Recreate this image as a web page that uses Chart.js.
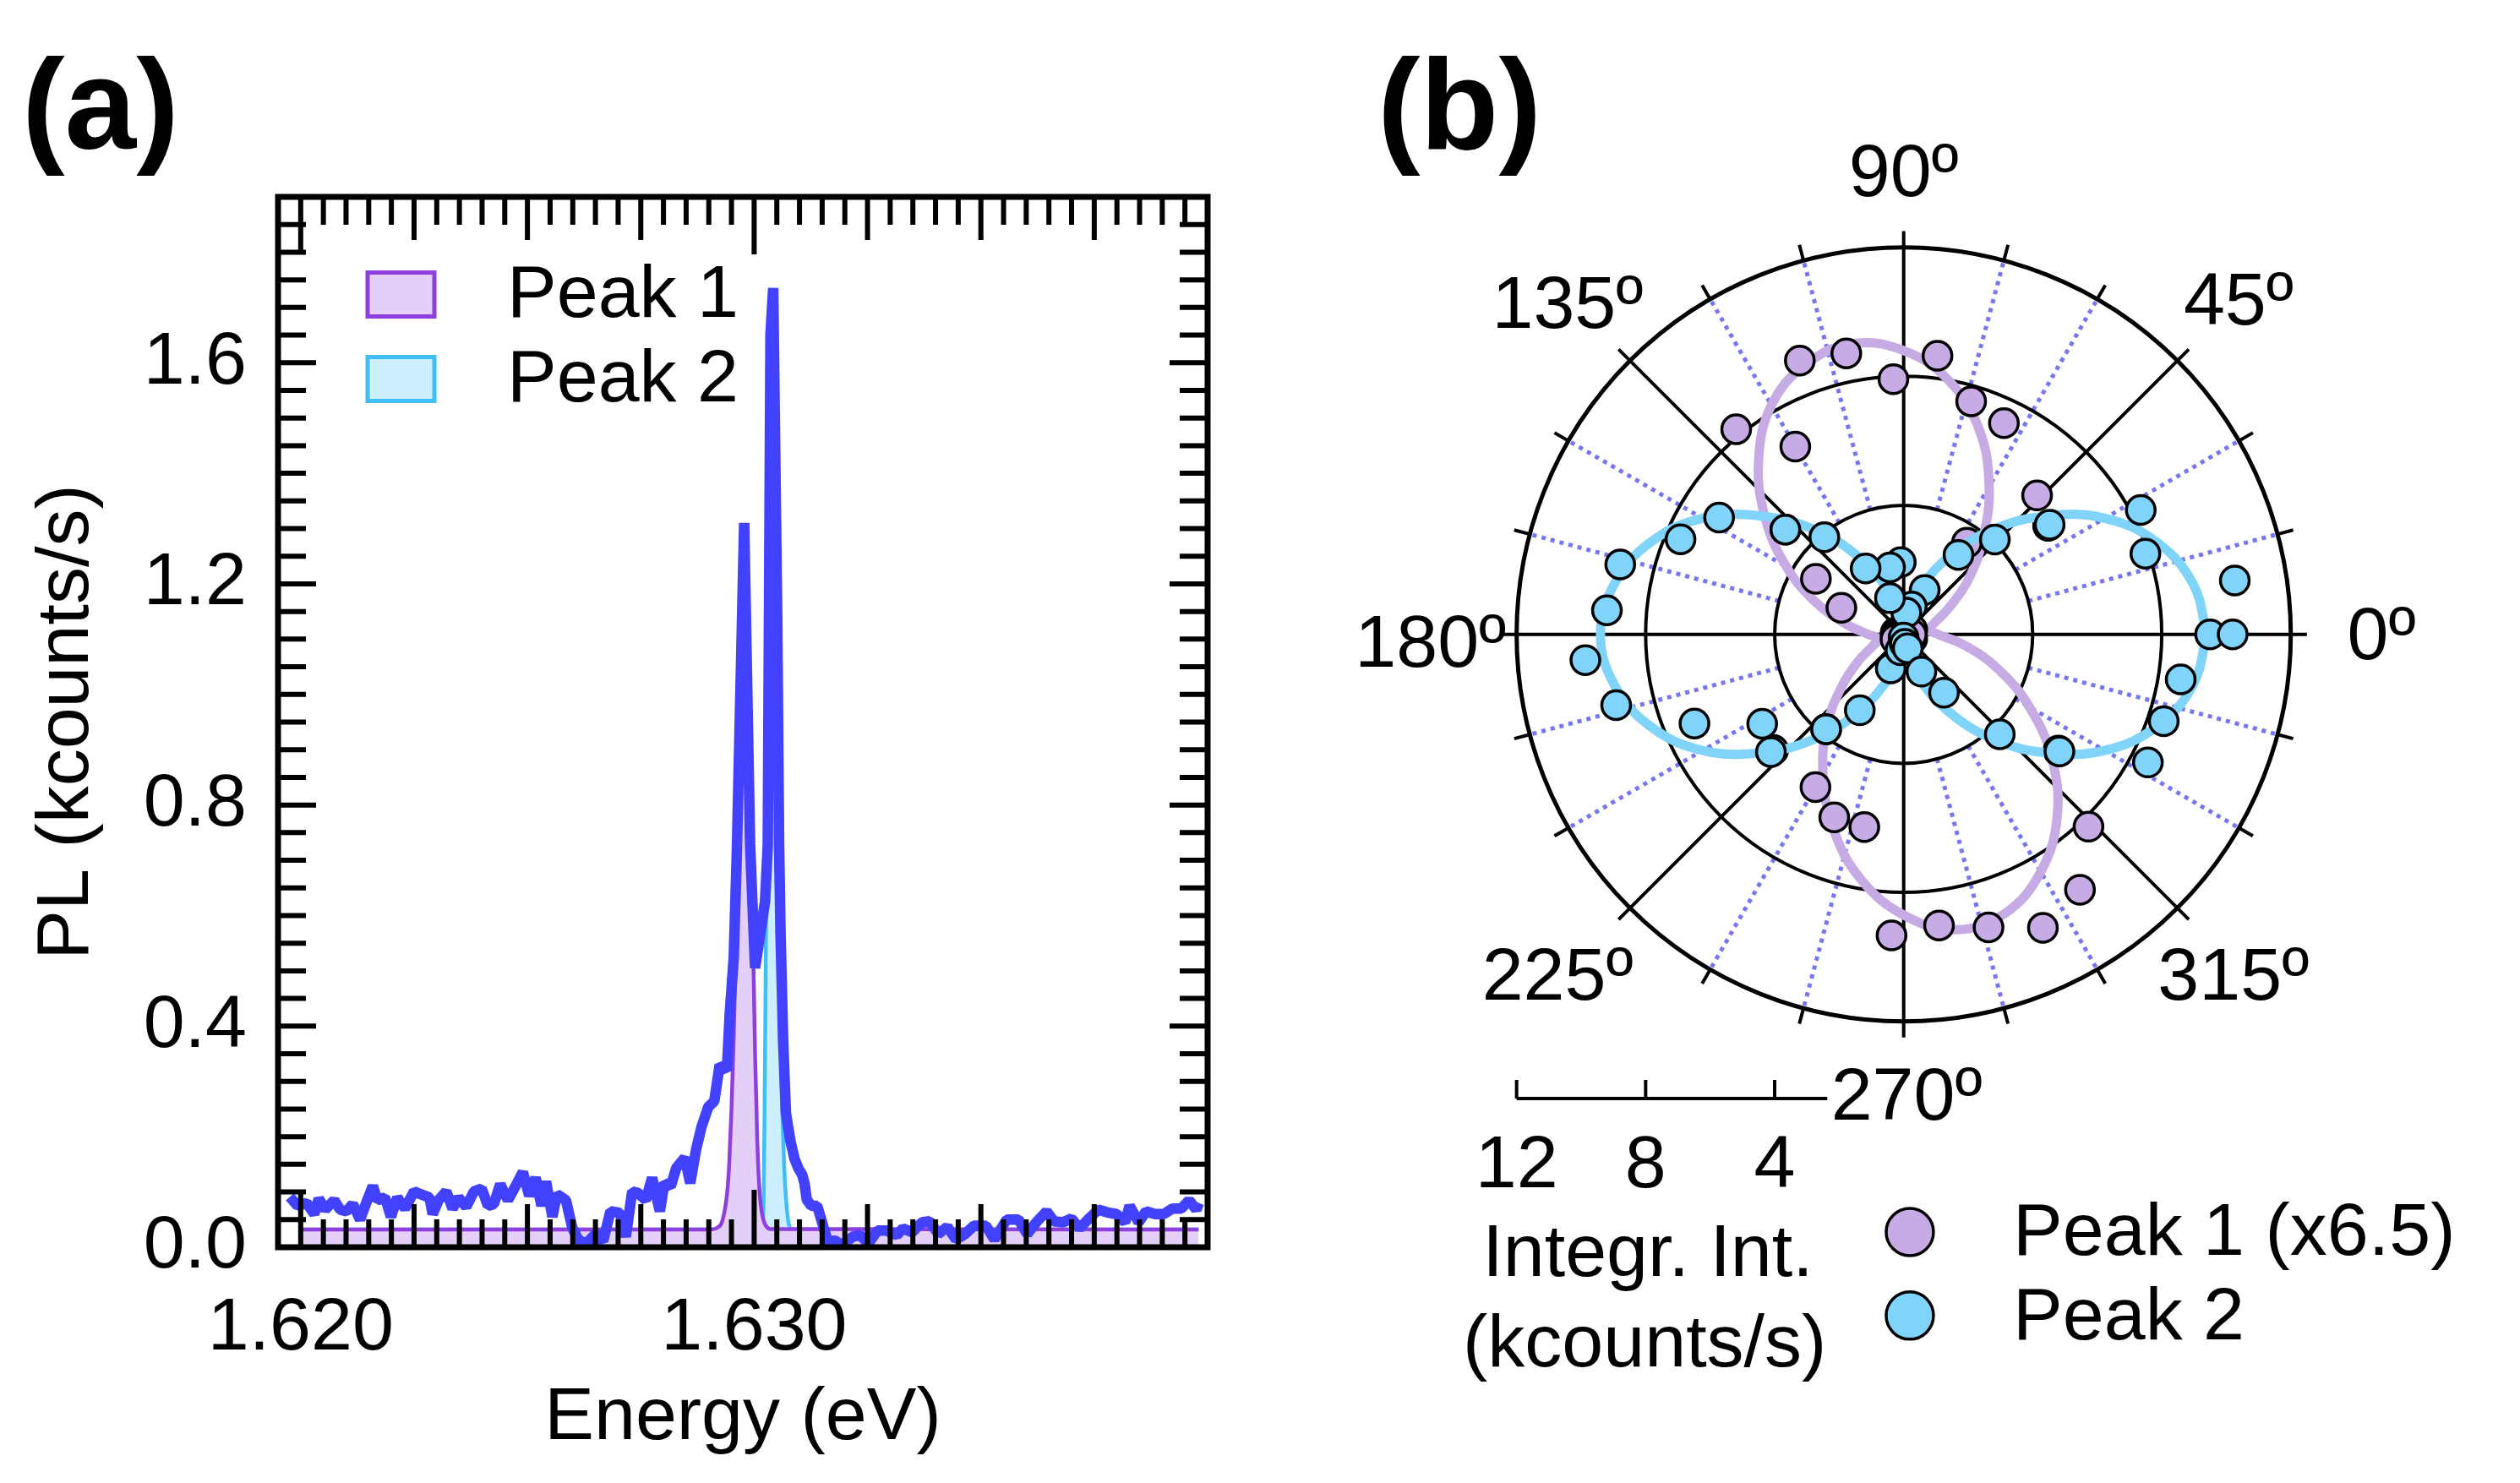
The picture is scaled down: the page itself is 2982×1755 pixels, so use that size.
<!DOCTYPE html>
<html lang="en">
<head>
<meta charset="utf-8">
<title>PL spectrum and polarization</title>
<script src="https://cdn.jsdelivr.net/npm/chart.js@4.4.1/dist/chart.umd.min.js"></script>
<style>
  html, body { margin: 0; padding: 0; background: #ffffff; }
  #page { position: relative; width: 2982px; height: 1755px; overflow: hidden; }
  .panel { position: absolute; top: 0; height: 1755px; }
  #panelA { left: 0; width: 1500px; }
  #panelB { left: 1500px; width: 1482px; }
</style>
</head>
<body>
<div id="page">
  <div class="panel" id="panelA"><canvas id="spectrumChart"></canvas></div>
  <div class="panel" id="panelB"><canvas id="polarChart"></canvas></div>
</div>
<script>
// (a) PL spectrum
const energy = [1.61976, 1.61993, 1.62013, 1.62030, 1.62040, 1.62054, 1.62074, 1.62087, 1.62101, 1.62115,
  1.62131, 1.62142, 1.62159, 1.62169, 1.62186, 1.62199, 1.62213, 1.62230, 1.62250, 1.62264,
  1.62284, 1.62291, 1.62304, 1.62321, 1.62335, 1.62348, 1.62365, 1.62382, 1.62399, 1.62413,
  1.62426, 1.62440, 1.62457, 1.62474, 1.62490, 1.62504, 1.62518, 1.62531, 1.62541, 1.62555,
  1.62565, 1.62585, 1.62599, 1.62612, 1.62629, 1.62650, 1.62667, 1.62683, 1.62704, 1.62717,
  1.62731, 1.62744, 1.62761, 1.62775, 1.62792, 1.62802, 1.62816, 1.62828, 1.62847, 1.62859,
  1.62872, 1.62884, 1.62899, 1.62912, 1.62924, 1.62940, 1.62946, 1.62955, 1.62962, 1.62978,
  1.62991, 1.63002, 1.63024, 1.63030, 1.63036, 1.63042, 1.63051, 1.63055, 1.63058, 1.63064,
  1.63070, 1.63080, 1.63089, 1.63098, 1.63106, 1.63111, 1.63116, 1.63126, 1.63139, 1.63148,
  1.63155, 1.63163, 1.63178, 1.63194, 1.63217, 1.63233, 1.63252, 1.63272, 1.63292, 1.63315,
  1.63328, 1.63348, 1.63370, 1.63387, 1.63406, 1.63426, 1.63445, 1.63465, 1.63485, 1.63511,
  1.63530, 1.63557, 1.63583, 1.63602, 1.63622, 1.63645, 1.63661, 1.63681, 1.63700, 1.63717,
  1.63736, 1.63759, 1.63779, 1.63799, 1.63818, 1.63828, 1.63848, 1.63864, 1.63884, 1.63903,
  1.63923, 1.63942, 1.63959, 1.63975, 1.63981];
const plCounts = [0.091, 0.075, 0.080, 0.060, 0.088, 0.068, 0.085, 0.068, 0.065, 0.078,
  0.050, 0.075, 0.111, 0.085, 0.090, 0.055, 0.090, 0.070, 0.101, 0.096,
  0.090, 0.060, 0.085, 0.101, 0.070, 0.090, 0.073, 0.101, 0.106, 0.075,
  0.078, 0.114, 0.085, 0.111, 0.136, 0.093, 0.126, 0.075, 0.119, 0.055,
  0.096, 0.085, 0.035, 0.014, 0.006, 0.024, 0.011, 0.065, 0.062, 0.019,
  0.101, 0.098, 0.085, 0.126, 0.065, 0.116, 0.110, 0.143, 0.162, 0.116,
  0.177, 0.218, 0.254, 0.264, 0.330, 0.320, 0.421, 0.524, 0.720, 1.310,
  0.730, 0.505, 0.625, 0.727, 1.650, 1.735, 1.130, 0.730, 0.574, 0.371,
  0.243, 0.192, 0.160, 0.142, 0.131, 0.116, 0.086, 0.075, 0.075, 0.050,
  0.030, 0.009, 0.012, 0.004, 0.019, 0.022, 0.007, 0.030, 0.030, 0.022,
  0.034, 0.027, 0.045, 0.047, 0.024, 0.037, 0.014, 0.024, 0.039, 0.039,
  0.014, 0.050, 0.050, 0.024, 0.045, 0.065, 0.047, 0.045, 0.052, 0.034,
  0.050, 0.068, 0.063, 0.060, 0.045, 0.075, 0.045, 0.065, 0.060, 0.060,
  0.070, 0.070, 0.085, 0.068, 0.080];

const peak1Energy = [1.6200, 1.6290, 1.62920, 1.62930, 1.62940, 1.62945, 1.62950, 1.62955, 1.62960, 1.62965,
  1.62970, 1.62975, 1.62978, 1.62982, 1.62987, 1.62992, 1.62997, 1.63002, 1.63007, 1.63012,
  1.63018, 1.63025, 1.63035, 1.6398];
const peak1Fit = [0.032, 0.032, 0.036, 0.048, 0.095, 0.15, 0.25, 0.38, 0.57, 0.80,
  1.06, 1.24, 1.28, 1.25, 1.10, 0.85, 0.58, 0.35, 0.19, 0.10,
  0.058, 0.040, 0.033, 0.032];

const peak2Energy = [1.6200, 1.6301, 1.63018, 1.63021, 1.63023, 1.63025, 1.63028, 1.63032, 1.63037, 1.63042,
  1.63047, 1.63051, 1.63055, 1.63058, 1.63062, 1.63066, 1.63071, 1.63077, 1.63085, 1.6398];
const peak2Fit = [0.032, 0.032, 0.040, 0.09, 0.25, 0.45, 0.80, 1.20, 1.55, 1.68,
  1.45, 0.90, 0.60, 0.40, 0.25, 0.15, 0.08, 0.04, 0.032, 0.032];

const energyTicks = [1.620, 1.630];
const plTicks = [0.0, 0.4, 0.8, 1.2, 1.6];

// (b) integrated intensity (kcounts/s) vs polarization angle (deg)
const polAngle = [0, 9.23, 18.46, 27.69, 36.92, 46.15, 55.38, 64.62, 73.85, 83.08,
  92.31, 101.54, 110.77, 120.00, 129.23, 138.46, 147.69, 156.92, 166.15, 175.38,
  184.62, 193.85, 203.08, 212.31, 221.54, 230.77, 240.00, 249.23, 258.46, 267.69,
  276.92, 286.15, 295.38, 304.62, 313.85, 323.08, 332.31, 341.54, 350.77, 360.00];
const peak1Int = [0.25, 0.25, 0.25, 0.3, 5.6, 5.97, 3.45, 7.25, 7.52, 8.70,
  7.92, 8.89, 9.08, 6.72, 8.21, 4.9, 3.22, 2.10, 0.25, 0.25,
  0.2, 0.25, 0.25, 0.3, 5.4, 3.8, 5.47, 6.07, 6.10, 9.34,
  9.09, 9.46, 10.07, 9.62, 8.27, 6.0, 0.3, 0.25, 0.25, 0.25];
const peak2Int = [9.5, 10.4, 7.9, 8.3, 5.66, 4.08, 2.99, 1.52, 0.9, 0.68,
  2.24, 2.12, 1.20, 2.36, 3.89, 4.90, 6.77, 7.52, 9.05, 9.23,
  9.90, 9.18, 7.05, 5.19, 5.50, 3.80, 2.72, 1.13, 0.5, 0.1,
  0.3, 0.45, 1.28, 2.2, 4.30, 6.04, 8.55, 8.5, 8.7, 10.2];

const fitAngle = [0, 10, 20, 30, 40, 50, 60, 70, 80, 90, 100, 110, 120, 130, 140, 150, 160, 170, 180,
  190, 200, 210, 220, 230, 240, 250, 260, 270, 280, 290, 300, 310, 320, 330, 340, 350, 360];
const peak1Model = [1.05, 0.8, 1.0, 1.6, 2.6, 3.8, 5.3, 6.8, 8.0, 8.8, 9.15, 8.9, 8.2, 7.0, 5.6, 4.2, 2.9, 1.8, 1.1,
  0.8, 1.0, 1.6, 2.5, 3.7, 5.0, 6.4, 7.7, 8.7, 9.3, 9.2, 8.5, 7.4, 6.0, 4.5, 3.1, 1.9, 1.05];
const peak2Model = [9.4, 9.1, 8.35, 7.2, 5.7, 4.2, 2.75, 1.55, 0.8, 0.5, 0.8, 1.55, 2.75, 4.2, 5.7, 7.2, 8.35, 9.1, 9.4,
  9.1, 8.35, 7.2, 5.7, 4.2, 2.75, 1.55, 0.8, 0.5, 0.8, 1.55, 2.75, 4.2, 5.7, 7.2, 8.35, 9.1, 9.4];

const angleLabels = [0, 45, 90, 135, 180, 225, 270, 315];
const radiusTicks = [12, 8, 4];

const FONT = "'Liberation Sans', Arial, Helvetica, sans-serif";
const TXT = 88;

document.addEventListener("DOMContentLoaded", function() {
    drawSpectrum();
    drawPolar();
});

function pairs(xs, ys) {
    return xs.map((v, i) => ({ x: v, y: ys[i] }));
}

function polarPoints(angles, radii) {
    return angles.map((a, i) => {
        const t = a * Math.PI / 180;
        return { x: radii[i] * Math.cos(t), y: radii[i] * Math.sin(t) };
    });
}

// box with inward ticks on all four sides + legend for panel (a)
const spectrumFrame = {
    id: 'spectrumFrame',
    afterDatasetsDraw(chart) {
        const { ctx, chartArea: a, scales: { x, y } } = chart;
        ctx.save();
        ctx.strokeStyle = '#000';
        ctx.lineWidth = 6;
        ctx.beginPath();
        for (let k = 0; k < 40; k++) {
            const px = x.getPixelForValue(1.620 + k * 0.0005);
            const len = k % 20 === 0 ? 68 : (k % 5 === 0 ? 51 : 33);
            ctx.moveTo(px, a.bottom); ctx.lineTo(px, a.bottom - len);
            ctx.moveTo(px, a.top); ctx.lineTo(px, a.top + len);
        }
        for (let k = 1; k < 38; k++) {
            const py = y.getPixelForValue(k * 0.05);
            const len = k % 8 === 0 ? 45 : 33;
            ctx.moveTo(a.left, py); ctx.lineTo(a.left + len, py);
            ctx.moveTo(a.right, py); ctx.lineTo(a.right - len, py);
        }
        ctx.stroke();
        ctx.lineWidth = 7;
        ctx.strokeRect(a.left, a.top, a.right - a.left, a.bottom - a.top);

        // legend
        const sets = chart.data.datasets;
        [[sets[1], 0], [sets[2], 100]].forEach(function(item) {
            const ds = item[0], dy = item[1];
            ctx.fillStyle = ds.backgroundColor;
            ctx.fillRect(435, 322.5 + dy, 79, 52);
            ctx.strokeStyle = ds.borderColor;
            ctx.lineWidth = 5;
            ctx.strokeRect(435, 322.5 + dy, 79, 52);
            ctx.fillStyle = '#000';
            ctx.font = TXT + 'px ' + FONT;
            ctx.textAlign = 'left';
            ctx.textBaseline = 'alphabetic';
            ctx.fillText(ds.label, 600, 375 + dy);
        });

        ctx.font = 'bold 152px ' + FONT;
        ctx.fillText('(a)', 26, 176);
        ctx.restore();
    }
};

function drawSpectrum() {
    const ctx = document.getElementById('spectrumChart').getContext('2d');
    const tickFont = { family: FONT, size: TXT };

    new Chart(ctx, {
        type: 'line',
        data: {
            datasets: [{
                label: 'PL',
                data: pairs(energy, plCounts),
                borderColor: '#4141ff',
                borderWidth: 12.5,
                borderJoinStyle: 'bevel',
                pointRadius: 0,
                tension: 0,
                fill: false
            }, {
                label: 'Peak 1',
                data: pairs(peak1Energy, peak1Fit),
                borderColor: '#8f3fe0',
                backgroundColor: '#e3cff7',
                borderWidth: 4.5,
                pointRadius: 0,
                cubicInterpolationMode: 'monotone',
                fill: 'origin'
            }, {
                label: 'Peak 2',
                data: pairs(peak2Energy, peak2Fit),
                borderColor: '#3fbff6',
                backgroundColor: '#cdeefc',
                borderWidth: 4.5,
                pointRadius: 0,
                cubicInterpolationMode: 'monotone',
                fill: 'origin'
            }]
        },
        options: {
            responsive: true,
            maintainAspectRatio: false,
            animation: false,
            layout: { padding: { top: 233, right: 71, bottom: 0, left: 0 } },
            plugins: { legend: { display: false }, tooltip: { enabled: false } },
            scales: {
                x: {
                    type: 'linear',
                    min: 1.6195,
                    max: 1.6400,
                    grid: { display: false },
                    border: { display: false },
                    afterBuildTicks: s => { s.ticks = energyTicks.map(v => ({ value: v })); },
                    afterFit: s => { s.height = 279; },
                    ticks: { callback: v => v.toFixed(3), font: tickFont, color: '#000', padding: 36, maxRotation: 0, autoSkip: false },
                    title: { display: true, text: 'Energy (eV)', font: tickFont, color: '#000', padding: { top: 0, bottom: 23 } }
                },
                y: {
                    min: 0,
                    max: 1.9,
                    grid: { display: false },
                    border: { display: false },
                    afterBuildTicks: s => { s.ticks = plTicks.map(v => ({ value: v })); },
                    afterFit: s => { s.width = 329; },
                    ticks: { callback: v => v.toFixed(1), font: tickFont, color: '#000', padding: 29 },
                    title: { display: true, text: 'PL (kcounts/s)', font: tickFont, color: '#000', padding: { top: 27, bottom: 0 } }
                }
            }
        },
        plugins: [spectrumFrame]
    });
}

// label anchors, in radius units relative to the pole
const ANGLE_LABEL_AT = {
    0: [14.81, -0.77], 45: [10.38, 9.61], 90: [0, 13.59], 135: [-10.42, 9.5],
    180: [-14.67, -1.0], 225: [-10.73, -11.33], 270: [0.09, -15.04], 315: [10.22, -11.33]
};

const polarFrame = {
    id: 'polarFrame',
    beforeDatasetsDraw(chart) {
        const { ctx, scales: { x, y } } = chart;
        const cx = x.getPixelForValue(0);
        const cy = y.getPixelForValue(0);
        const u = x.getPixelForValue(1) - cx;
        function ray(deg, r0, r1) {
            const t = deg * Math.PI / 180;
            ctx.moveTo(cx + r0 * u * Math.cos(t), cy - r0 * u * Math.sin(t));
            ctx.lineTo(cx + r1 * u * Math.cos(t), cy - r1 * u * Math.sin(t));
        }
        ctx.save();
        // dotted guides every 15 deg
        ctx.beginPath();
        for (let d = 15; d < 360; d += 15) if (d % 45) ray(d, 4, 12);
        ctx.strokeStyle = '#7676f2';
        ctx.lineWidth = 5;
        ctx.setLineDash([5, 6]);
        ctx.stroke();
        ctx.setLineDash([]);

        ctx.strokeStyle = '#000';
        ctx.lineWidth = 4;
        ctx.beginPath();
        [4, 8].forEach(r => { ctx.moveTo(cx + r * u, cy); ctx.arc(cx, cy, r * u, 0, 2 * Math.PI); });
        for (let d = 0; d < 360; d += 45) ray(d, 0, 12.5);
        for (let d = 15; d < 360; d += 15) if (d % 45) ray(d, 12, 12.5);
        ctx.stroke();
        ctx.beginPath();
        ctx.arc(cx, cy, 12 * u, 0, 2 * Math.PI);
        ctx.lineWidth = 5;
        ctx.stroke();
        ctx.restore();
    },
    afterDatasetsDraw(chart) {
        const { ctx, scales: { x, y } } = chart;
        const px = v => x.getPixelForValue(v);
        const py = v => y.getPixelForValue(v);
        ctx.save();
        ctx.fillStyle = '#000';
        ctx.font = TXT + 'px ' + FONT;
        ctx.textAlign = 'center';
        ctx.textBaseline = 'alphabetic';
        angleLabels.forEach(a => {
            const at = ANGLE_LABEL_AT[a];
            ctx.fillText(a + '\u00BA', px(at[0]), py(at[1]));
        });

        // radius scale bar
        const barY = py(-14.39);
        ctx.strokeStyle = '#000';
        ctx.lineWidth = 4;
        ctx.beginPath();
        ctx.moveTo(px(-12), barY);
        ctx.lineTo(px(-2.37), barY);
        radiusTicks.forEach(r => { ctx.moveTo(px(-r), barY); ctx.lineTo(px(-r), barY - 22); });
        ctx.stroke();
        radiusTicks.forEach(r => ctx.fillText(String(r), px(-r), py(-17.14)));
        ctx.fillText('Integr. Int.', px(-7.93), py(-19.89));
        ctx.fillText('(kcounts/s)', px(-8.03), py(-22.7));

        // legend
        const sets = chart.data.datasets;
        [[sets[2], -18.53, -19.24], [sets[0], -21.12, -21.86]].forEach(function(item) {
            const ds = item[0];
            ctx.beginPath();
            ctx.arc(px(0.19), py(item[1]), 28, 0, 2 * Math.PI);
            ctx.fillStyle = ds.pointBackgroundColor;
            ctx.fill();
            ctx.lineWidth = 3.5;
            ctx.strokeStyle = '#000';
            ctx.stroke();
            ctx.fillStyle = '#000';
            ctx.textAlign = 'left';
            ctx.fillText(ds.label, px(3.39), py(item[2]));
        });

        ctx.font = 'bold 152px ' + FONT;
        ctx.textAlign = 'left';
        ctx.fillText('(b)', 130, 176);
        ctx.restore();
    }
};

function drawPolar() {
    const ctx = document.getElementById('polarChart').getContext('2d');
    const lilac = '#c7abe5';
    const sky = '#80d3f9';

    new Chart(ctx, {
        type: 'scatter',
        data: {
            datasets: [{
                label: 'Peak 2',
                data: polarPoints(polAngle, peak2Int),
                pointRadius: 17,
                pointBackgroundColor: sky,
                pointBorderColor: '#000',
                pointBorderWidth: 3.5,
                showLine: false
            }, {
                label: 'Peak 2 fit',
                data: polarPoints(fitAngle, peak2Model),
                showLine: true,
                borderColor: sky,
                borderWidth: 11,
                pointRadius: 0,
                tension: 0.4
            }, {
                label: 'Peak 1 (x6.5)',
                data: polarPoints(polAngle, peak1Int),
                pointRadius: 17,
                pointBackgroundColor: lilac,
                pointBorderColor: '#000',
                pointBorderWidth: 3.5,
                showLine: false
            }, {
                label: 'Peak 1 fit',
                data: polarPoints(fitAngle, peak1Model),
                showLine: true,
                borderColor: lilac,
                borderWidth: 11,
                pointRadius: 0,
                tension: 0.4
            }]
        },
        options: {
            responsive: true,
            maintainAspectRatio: false,
            animation: false,
            layout: { padding: { left: 237.4, right: 214, top: 235.4, bottom: 489 } },
            plugins: { legend: { display: false }, tooltip: { enabled: false } },
            scales: {
                x: { type: 'linear', min: -13.5, max: 13.5, display: false },
                y: { type: 'linear', min: -13.5, max: 13.5, display: false }
            }
        },
        plugins: [polarFrame]
    });
}
</script>
</body>
</html>
